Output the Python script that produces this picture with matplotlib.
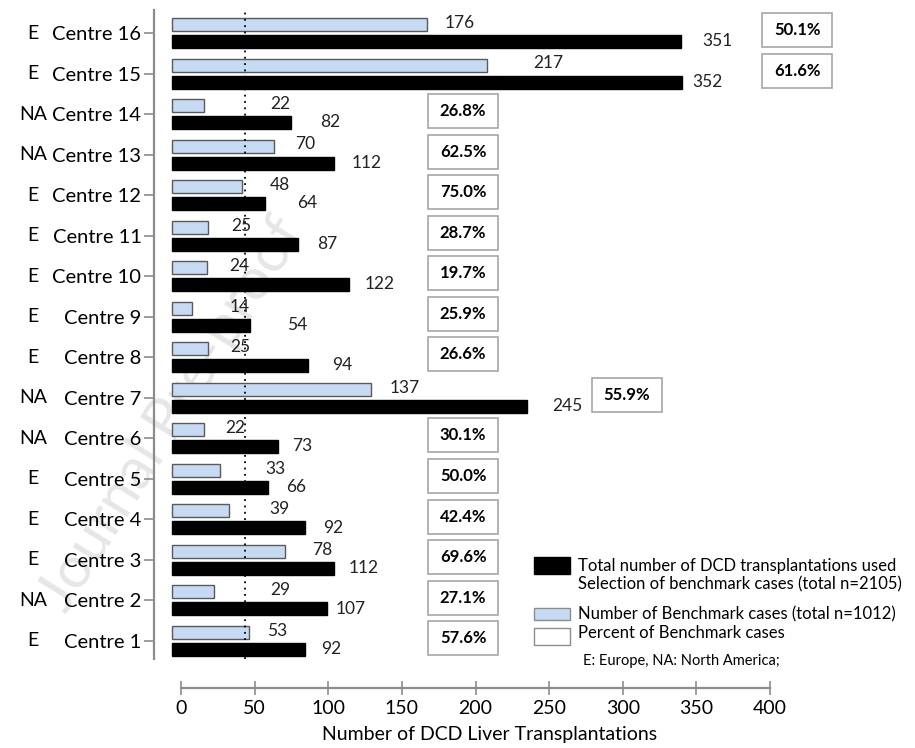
import matplotlib
matplotlib.use("Agg")
import matplotlib.pyplot as plt
from matplotlib.patches import Rectangle

plt.rcParams['font.family'] = ['Lato', 'DejaVu Sans']

# Data, Centre 1 .. Centre 16
centres = [f"Centre {i}" for i in range(1, 17)]
regions = ["E", "NA", "E", "E", "E", "NA", "NA", "E",
           "E", "E", "E", "E", "NA", "NA", "E", "E"]
benchmark = [53, 29, 78, 39, 33, 22, 137, 25, 14, 24, 25, 48, 70, 22, 217, 176]
total = [92, 107, 112, 92, 66, 73, 245, 94, 54, 122, 87, 64, 112, 82, 352, 351]
ref_line = 50

# label / box placement (bar-scale units), as in the original layout
blue_lab_x = [72.4, 74.5, 103.4, 73.8, 71.0, 43.4, 160.7, 46.9,
              46.9, 46.2, 47.6, 74.5, 91.7, 74.5, 259.3, 198.6]
black_lab_x = [109.7, 123.4, 132.4, 111.0, 85.5, 89.7, 272.4, 117.2,
               86.2, 143.4, 106.9, 93.1, 134.5, 109.0, 369.0, 375.9]
box_left = [176.6] * 16
box_left[6] = 289.7
box_left[14] = 407.0
box_left[15] = 407.0

W, H = 915, 748
fig = plt.figure(figsize=(W / 100, H / 100), dpi=100)


def px(x0, y0, x1, y1):
    # pixel box -> figure fraction rect
    return [x0 / W, 1 - y1 / H, (x1 - x0) / W, (y1 - y0) / H]


# watermark
fig.text(172 / W, 1 - 415 / H, "Journal Pre-proof", fontsize=42, color="#e6e6e6",
         rotation=58, ha="center", va="center", zorder=-1)

ax = fig.add_axes(px(154, 10, W, 659))
ax.set_facecolor("none")
sx = 1.45          # px per unit on bar scale
sy = 40.53         # px per centre
ax.set_xlim((154 - 172) / sx, (W - 172) / sx)
ax.set_ylim(1 - 18 / sy, 16 + 23 / sy)

y = list(range(1, 17))
off = 8.5 / sy
h = 13 / sy
ax.barh([v + off for v in y], benchmark, height=h, left=0, color="#c6dbf3",
        edgecolor="#5a5a5a", linewidth=1, zorder=2)
ax.barh([v - off for v in y], total, height=h, left=0, color="black",
        edgecolor="black", linewidth=1, zorder=2)
ax.axvline(ref_line, color="black", linestyle=(0, (1, 2.5)), linewidth=1.3, zorder=3)

for i, c in enumerate(y):
    ax.text(blue_lab_x[i], c + 0.25, str(benchmark[i]), fontsize=12.5,
            ha="center", va="center", color="#222222", zorder=4)
    ax.text(black_lab_x[i], c - 0.2, str(total[i]), fontsize=12.5,
            ha="center", va="center", color="#222222", zorder=4)
    pct = 100 * benchmark[i] / total[i]
    bw, bh = 70 / sx, 34 / sy
    ax.add_patch(Rectangle((box_left[i], c + 0.07 - bh / 2), bw, bh,
                           facecolor="white", edgecolor="#a6a6a6", linewidth=1.2, zorder=3))
    ax.text(box_left[i] + bw / 2, c + 0.07, f"{pct:.1f}%", fontsize=12,
            fontweight="bold", ha="center", va="center", zorder=4)

ax.set_yticks(y)
ax.set_yticklabels(centres, fontsize=14.5)
ax.tick_params(axis="y", length=7, width=1.2, color="#8c8c8c", pad=2)
ax.set_xticks([])
for s in ["top", "right", "bottom"]:
    ax.spines[s].set_visible(False)
ax.spines["left"].set_color("#8c8c8c")
ax.spines["left"].set_linewidth(1.6)

for i, c in enumerate(y):
    fig.text(33 / W, 1 - (641 - (c - 1) * sy) / H, regions[i], fontsize=14,
             ha="center", va="center")

# separate x axis as drawn in the original
ax2 = fig.add_axes(px(181, 687, 770, 688))
ax2.set_xlim(0, 400)
ax2.set_xticks(range(0, 401, 50))
ax2.set_yticks([])
ax2.set_facecolor("none")
for s in ["top", "right", "left"]:
    ax2.spines[s].set_visible(False)
ax2.spines["bottom"].set_color("#8c8c8c")
ax2.spines["bottom"].set_linewidth(1.6)
ax2.tick_params(axis="x", direction="inout", length=10, width=1.2, color="#8c8c8c",
                labelsize=14, pad=4)
ax2.set_xlabel("Number of DCD Liver Transplantations", fontsize=14)
ax2.xaxis.set_label_coords((490 - 181) / 589, -38)

# legend
fig.patches.append(Rectangle((534 / W, 1 - 574 / H), 36 / W, 17 / H, facecolor="black",
                             edgecolor="black", transform=fig.transFigure, figure=fig))
fig.patches.append(Rectangle((534 / W, 1 - 620 / H), 36 / W, 12 / H, facecolor="#c6dbf3",
                             edgecolor="#8c8c8c", transform=fig.transFigure, figure=fig))
fig.patches.append(Rectangle((534 / W, 1 - 645 / H), 36 / W, 17 / H, facecolor="white",
                             edgecolor="#8c8c8c", transform=fig.transFigure, figure=fig))
fig.text(578 / W, 1 - 566 / H, "Total number of DCD transplantations used",
         fontsize=12, va="center")
fig.text(578 / W, 1 - 584 / H, "Selection of benchmark cases (total n=2105)",
         fontsize=12, va="center")
fig.text(578 / W, 1 - 614 / H, "Number of Benchmark cases (total n=1012)",
         fontsize=12, va="center")
fig.text(578 / W, 1 - 633 / H, "Percent of Benchmark cases", fontsize=12, va="center")
fig.text(583 / W, 1 - 661 / H, "E: Europe, NA: North America;", fontsize=10.5, va="center")

fig.savefig("out.png", dpi=100)
